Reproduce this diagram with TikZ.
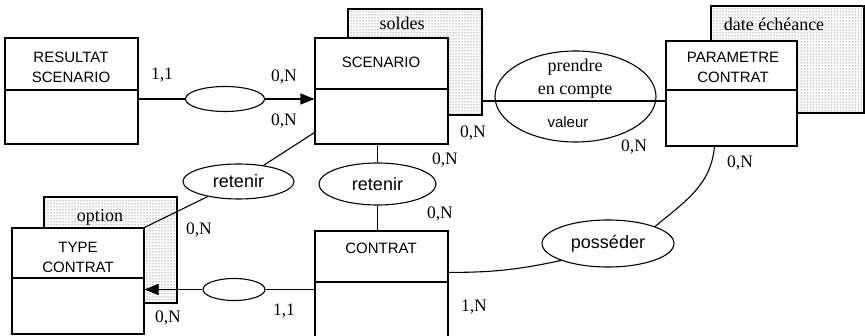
\documentclass[tikz,border=0pt]{standalone}
\usepackage{fontspec}
\setmainfont{Liberation Serif}
\newfontfamily\arialf{Liberation Sans}
\usetikzlibrary{patterns,arrows.meta,calc,shapes.geometric}
\begin{document}
\begin{tikzpicture}[x=1pt,y=-1pt,
  entity/.style={draw, line width=1.1pt, fill=white, inner sep=0pt},
  shadebox/.style={draw, line width=1.1pt, pattern=dots, pattern color=black!85, inner sep=0pt},
  rel/.style={draw, ellipse, line width=1.1pt, fill=white, inner sep=0pt},
  conn/.style={line width=1.1pt},
  card/.style={font=\fontsize{17.5}{20}\selectfont, inner sep=0pt},
  serifl/.style={font=\fontsize{18}{23}\selectfont, inner sep=0pt, align=center},
  title/.style={font=\arialf\fontsize{15}{20}\selectfont, align=center, inner sep=0pt},
  rtext/.style={font=\arialf\fontsize{18}{20}\selectfont},
  arr/.style={-{Triangle[length=14pt,width=11pt]}}
]
\useasboundingbox (0,0) rectangle (865,336);
\clip (0,0) rectangle (865,336);

% shaded attribute boxes (behind)
\node[shadebox, minimum width=134pt, minimum height=106pt] (soldes) at (415,62) {};
\node[serifl] (tsoldes) at (402,23) {soldes};
\node[shadebox, minimum width=153pt, minimum height=107pt] (dateech) at (787.5,59.5) {};
\node[serifl] (tdate) at (774,24) {date échéance};
\node[shadebox, minimum width=133pt, minimum height=106pt] (option) at (110.5,250) {};
\node[serifl] (toption) at (100,217) {option};

% entities
\node[entity, minimum width=133pt, minimum height=106pt] (res) at (71.5,91) {};
\draw[conn] (5,90) -- (138,90);
\node[title] (tres) at (71,67) {RESULTAT\\SCENARIO};

\node[entity, minimum width=133pt, minimum height=106pt] (scen) at (381.5,91) {};
\draw[conn] (315,89) -- (448,89);
\node[title] (tscen) at (381,62) {SCENARIO};

\node[entity, minimum width=131pt, minimum height=105pt] (param) at (731.5,93.5) {};
\draw[conn] (666,90) -- (797,90);
\node[title] (tparam) at (733,67) {PARAMETRE\\CONTRAT};

\node[entity, minimum width=133pt, minimum height=118pt] (contrat) at (381.5,290) {};
\draw[conn] (315,282) -- (448,282);
\node[title] (tcontrat) at (381,248) {CONTRAT};

\node[entity, minimum width=132pt, minimum height=106pt] (type) at (78,281) {};
\draw[conn] (12,278) -- (144,278);
\node[title] (ttype) at (78,257) {TYPE\\CONTRAT};

% relationships
\node[rel, minimum width=79pt, minimum height=25pt] (e1) at (225,99) {};
\node[rel, minimum width=62pt, minimum height=22pt] (e2) at (234,289.5) {};
\coordinate (pcl) at (575,101);
\draw[conn] (soldes.east |- pcl) -- (param.west |- pcl);
\node[rel, minimum width=161pt, minimum height=91pt, fill=none] (pc) at (575.5,96.5) {};
\node[serifl] (tpc) at (575,79) {prendre\\en compte};
\node[font=\arialf\fontsize{15}{18}\selectfont, inner sep=0pt] (tval) at (568,122) {valeur};
\node[rel, minimum width=111pt, minimum height=35pt, rtext] (ret1) at (238.5,181.5) {retenir};
\node[rel, minimum width=117pt, minimum height=42pt, rtext] (ret2) at (377.5,184) {retenir};
\node[rel, minimum width=132pt, minimum height=47pt, rtext] (poss) at (608,243.5) {posséder};

% connectors
\draw[conn] (res.east |- e1) -- (e1.west);
\draw[conn, arr] (e1.east) -- (scen.west |- e1);
\draw[conn] (contrat.west |- e2) -- (e2.east);
\draw[conn, arr] (e2.west) -- (type.east |- e2);
\draw[conn] (scen.south -| ret2.north) -- (ret2.north);
\draw[conn] (ret2.south) -- (contrat.north -| ret2.south);
\draw[conn] ($(scen.south west)+(0,-12)$) -- (ret1);
\draw[conn] (ret1) -- (type.north east);
\draw[conn] ($(param.south west)+(49,0)$) to[out=-95, in=40] (poss.north east);
\draw[conn] ($(contrat.north east)+(0,42)$) to[bend right=6] (poss.south west);

% cardinalities
\node[card] (c1) at (162,75) {1,1};
\node[card] (c2) at (284,77) {0,N};
\node[card] (c3) at (284,121) {0,N};
\node[card] (c4) at (473,133) {0,N};
\node[card] (c5) at (445,160) {0,N};
\node[card] (c6) at (634,147) {0,N};
\node[card] (c7) at (740,163) {0,N};
\node[card] (c8) at (440,214) {0,N};
\node[card] (c9) at (474,307) {1,N};
\node[card] (c10) at (199,230) {0,N};
\node[card] (c11) at (168,318) {0,N};
\node[card] (c12) at (284,311) {1,1};
\end{tikzpicture}
\end{document}
